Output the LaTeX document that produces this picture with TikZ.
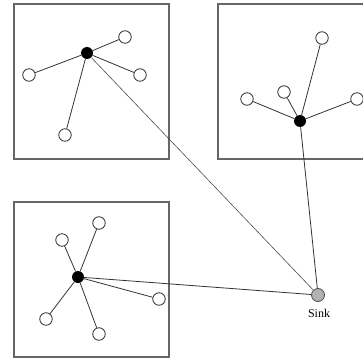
\documentclass[tikz,border=0pt]{standalone}
\usepackage{fontspec}
\setmainfont{Liberation Serif}
\begin{document}
\begin{tikzpicture}[x=1pt,y=-1pt,
  region/.style={draw=black!60,line width=1.3pt},
  leaf/.style={circle,draw=black!80,fill=white,line width=0.8pt,minimum size=12.5pt,inner sep=0pt},
  hub/.style={circle,fill=black,minimum size=12pt,inner sep=0pt},
  sinknode/.style={circle,draw=black!70,fill=black!30,line width=0.8pt,minimum size=13pt,inner sep=0pt},
  link/.style={draw=black!80,line width=0.8pt},
  uplink/.style={draw=black!80,line width=0.8pt},
  thinlink/.style={draw=black!70,line width=0.6pt}]
\useasboundingbox (0,0) rectangle (363,358);
% regions
\draw[region] (14,4) rectangle (169,159);
\draw[region] (218,4) rectangle (366,159);
\draw[region] (14,202) rectangle (169,357);
% sink
\node[sinknode] (sink) at (318,295) {};
\node[font=\fontsize{12}{14}\selectfont] (sinklbl) at (319,313) {Sink};
% cluster 1
\node[hub] (h1) at (87,53) {};
\node[leaf] (a1) at (125,37) {};
\node[leaf] (a2) at (29,75) {};
\node[leaf] (a3) at (140,75) {};
\node[leaf] (a4) at (65,135) {};
% cluster 2
\node[hub] (h2) at (300,121) {};
\node[leaf] (b1) at (322,38) {};
\node[leaf] (b2) at (247,99) {};
\node[leaf] (b3) at (284,92) {};
\node[leaf] (b4) at (357,99) {};
% cluster 3
\node[hub] (h3) at (78,277) {};
\node[leaf] (c1) at (62,240) {};
\node[leaf] (c2) at (99,223) {};
\node[leaf] (c3) at (159,299) {};
\node[leaf] (c4) at (46,319) {};
\node[leaf] (c5) at (99,334) {};
% links
\foreach \l in {a1,a2,a3,a4} \draw[link] (h1) -- (\l);
\foreach \l in {b1,b2,b3,b4} \draw[link] (h2) -- (\l);
\foreach \l in {c1,c2,c3,c4,c5} \draw[link] (h3) -- (\l);
\draw[thinlink] (h1) -- (sink);
\draw[uplink] (h2) -- (sink);
\draw[uplink] (h3) -- (sink);
\end{tikzpicture}
\end{document}
